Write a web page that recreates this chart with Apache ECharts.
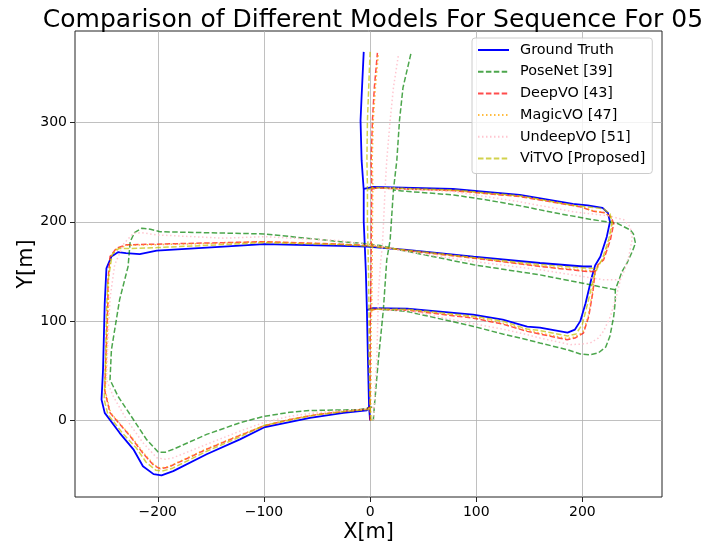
<!DOCTYPE html>
<html>
<head>
<meta charset="utf-8">
<script src="https://cdn.jsdelivr.net/npm/echarts@6/dist/echarts.min.js"></script>
<style>
  html, body { margin: 0; padding: 0; background: #fff; }
  #chart { width: 704px; height: 549px; }
</style>
</head>
<body>
<div id="chart"></div>
<script>
// legend names
var seriesNames = ['Ground Truth', 'PoseNet [39]', 'DeepVO [43]', 'MagicVO [47]', 'UndeepVO [51]', 'ViTVO [Proposed]'];
var xTicks = [-200, -100, 0, 100, 200];
var yTicks = [0, 100, 200, 300];

// ground truth: central road, right loop, middle road + left loop  [x, y] in m
var gtVertical = [[0,0],[-1,14],[-2,60],[-3,111],[-4,150],[-5,176],[-6,200],[-6,232],[-8,262],[-9,302],[-8,326],[-6,371]];
var gtRightLoop = [[-3,111],[2,113],[35,112.5],[97,106.5],[125,101.5],[148,94.5],[160,93.5],[186,88.5],[193,91.5],[198,100],[203,118],[209,145],[212,156],[217,165],[223,185],[226,200],[224,209],[219,214],[205,216.5],[191,218],[141,227],[78,233],[3,235],[-6,233]];
var gtLeftLoop = [[209,155],[201,155],[160,158.5],[97.5,165],[34.6,171.7],[-3,175],[-28,175.7],[-100,177.5],[-138,175],[-201,171],[-217,167.5],[-230,168.4],[-237.5,169.4],[-243.7,165],[-248.4,153],[-250,118],[-251.6,51],[-253,21],[-250,7.7],[-236,-12.4],[-223,-29],[-214,-46],[-204,-54],[-196.5,-55.2],[-185.5,-51],[-154,-34],[-122.6,-19],[-100,-7],[-56.6,2.7],[-25,7.7],[-3,10.3],[-1,14]];

// PoseNet
var poseVertical = [[3,0],[4,14],[7.8,61],[12.5,111.5],[15.7,161.7],[18.9,181.8],[22,232],[25.2,262],[27.7,302],[31,335],[38.4,369]];
var poseRightLoop = [[12.5,111.5],[18,111.5],[34.6,109.8],[97.5,94.7],[125,87],[148,81.3],[160,78],[185.5,71.3],[198,67],[207,66],[215,68],[222,74],[226,85],[229.5,104.8],[231,120],[231,131.6],[237.4,150],[242,158.4],[247,170],[250,178.5],[248,188],[245,191.8],[232.7,198.5],[210,202],[179,208],[141.5,216],[110,222],[78.6,227],[30,231],[22,232]];
var poseLeftLoop = [[231,131.6],[229.5,132.3],[160,146.6],[97.5,156.7],[20,173.5],[10,176],[-9.4,178.5],[-28,180],[-100,187.8],[-198,190],[-207,192.5],[-215,193.5],[-222,189],[-226,180],[-228,155],[-236,121.5],[-243.7,71],[-245,41],[-237.5,24.4],[-223,1],[-210.7,-19],[-199.7,-31.8],[-193,-32],[-185.5,-29],[-154,-14],[-122.6,-2.3],[-100.6,4],[-75.5,8.3],[-56.6,10],[-9.4,11],[4,14]];

// DeepVO
var deepVertical = [[0,0],[0,14],[0,60],[0,95],[0.5,111],[1,162],[1.2,200],[1.6,235],[1,262],[2.2,302],[4,335],[6.9,370]];
var deepRightLoop = [[0.5,111],[5,112],[35,111],[97.5,103],[125,97],[148,89.7],[160,87],[185.5,81.3],[193,83],[201,88],[206,104.8],[210,130],[212,150],[215,157],[220,161.7],[226.4,181.8],[229.5,198],[227,205],[221,209],[210.7,210.5],[198,215],[141.5,225.3],[78.6,231.3],[6,234],[1.6,233]];
var deepLeftLoop = [[212,150],[204.4,150],[160,155],[97.5,163.4],[34.6,171],[1,176],[-28,177.5],[-100,180],[-138,179],[-201,177.5],[-229.5,176.8],[-239,173.4],[-245,165],[-247,140],[-247,121.5],[-249,60],[-250,30],[-245,7.7],[-226,-15.8],[-214,-33],[-204,-45],[-198,-48.5],[-190,-47],[-154,-29],[-122.6,-15],[-100,-5.5],[-75.5,1],[-50,6],[-25,9],[-2,11.5],[0,14]];

// MagicVO
var magicVertical = [[0.5,0],[0.5,14],[1,60],[1,95],[1.5,111],[2,162],[2.2,200],[2.6,235],[2,262],[3,302],[5,335],[7.8,369]];
var magicRightLoop = [[1.5,111],[6,112],[35,111.5],[97.5,104],[125,98],[148,90.5],[160,88],[185.5,82.5],[193,84],[200.5,89],[205.5,105],[209.5,130],[211.5,150],[214.5,157],[219.5,162],[225.5,182],[228.5,198.5],[226,205.5],[220,209.5],[210,211],[198,215.5],[141.5,225.8],[78.6,231.6],[6,234.3],[2.6,233]];
var magicLeftLoop = [[211.5,151],[204,151],[160,155.5],[97.5,163.8],[34.6,171.2],[1.5,176],[-28,177.3],[-100,179.8],[-138,178.5],[-201,177],[-229,176.3],[-238.5,173],[-244.5,165],[-246.5,140],[-246.5,121.5],[-248.5,60],[-249.5,30],[-244.5,7.7],[-225.5,-15.5],[-213.5,-32.5],[-203.5,-44.5],[-198,-48],[-190,-46.5],[-154,-28.5],[-122.6,-14.7],[-100,-5.2],[-75.5,1.2],[-50,6.2],[-25,9.2],[-1.5,11.5],[0.5,14]];

// UndeepVO
var undeepVertical = [[3.5,0],[4.5,30],[6.3,61],[7.5,112],[7.8,128],[10,160],[11.5,175],[12.5,195],[14.2,235],[15.7,262],[18.9,302],[22,335],[26.7,368]];
var undeepRightLoop = [[7.5,112],[12,112],[35,110.5],[97.5,97.4],[125,92],[148,86.4],[160,83],[188.7,76.3],[200,77],[207.5,78],[215,83],[220,90],[226.4,104.8],[232,125],[235.8,141.6],[240,152],[243.7,165],[247,183],[245,195],[239,202],[225,206],[191.8,210],[141.5,220],[78.6,230.3],[18,234],[14.2,233]];
var undeepLeftLoop = [[235.8,141.6],[220,141.6],[160,151.7],[97.5,160],[34.6,170],[11.5,175],[-28,181],[-100,185],[-138,183.5],[-201,186.8],[-215,189],[-223,188.5],[-232,178],[-240.6,156.7],[-245,123],[-247,80],[-248.4,41],[-242,24.4],[-229.5,1],[-214,-22.4],[-201,-37.5],[-193,-39],[-185.5,-37.5],[-154,-24],[-122.6,-10.7],[-100,-2],[-75.5,4.3],[-50,8],[-25,10],[-2,11.5],[4.5,14]];

// ViTVO
var vitVertical = [[1,0],[0,14],[-1,60],[-1,111],[-1.5,150],[-2,176],[-2.5,200],[-2.5,235],[-3,262],[-2.5,302],[-1.5,330],[0,371]];
var vitRightLoop = [[-1,111],[3,112],[35,112],[97.5,105],[125,100],[148,92],[160,90.5],[186,85],[194,87],[200,97],[205,118],[211,145],[214,153],[219,163],[225,183],[228,200],[226,208],[220,213],[205,215],[191,216.5],[141.5,226],[78.6,232],[3,234.5],[-2.5,232]];
var vitLeftLoop = [[211,153],[201,153.5],[160,157],[97.5,164],[34.6,171.5],[-2,175.5],[-28,177],[-100,179],[-138,177],[-201,174],[-225,173],[-237,173],[-243,167],[-247,140],[-248,118],[-249.5,51],[-250.5,21],[-247,6],[-233,-13],[-220,-28],[-211,-42],[-202,-50],[-196,-51],[-186,-48],[-154,-31],[-122.6,-16.5],[-100,-5],[-56.6,4.5],[-25,9],[-2,11],[0,14]];

var FONT = 'DejaVu Sans';
var DASHED = [5.5, 2.4];
var DOTTED = [1.5, 2.5];

function track(name, segs, color, width, type) {
	return segs.map(function (seg) {
		return {
			type: 'line',
			name: name,
			data: seg,
			symbol: 'none',
			showSymbol: false,
			smooth: false,
			animation: false,
			silent: true,
			itemStyle: { color: color, opacity: 0 },
			lineStyle: { color: color, width: width, type: type }
		};
	});
}

var series = [].concat(
	track(seriesNames[0], [gtVertical, gtRightLoop, gtLeftLoop], '#0000ff', 1.8, 'solid'),
	track(seriesNames[1], [poseVertical, poseRightLoop, poseLeftLoop], 'rgba(0,128,0,0.7)', 1.5, DASHED),
	track(seriesNames[2], [deepVertical, deepRightLoop, deepLeftLoop], 'rgba(255,0,0,0.7)', 1.5, DASHED),
	track(seriesNames[3], [magicVertical, magicRightLoop, magicLeftLoop], 'rgba(255,165,0,0.75)', 1.5, DOTTED),
	track(seriesNames[4], [undeepVertical, undeepRightLoop, undeepLeftLoop], 'rgba(255,192,203,0.9)', 1.5, DOTTED),
	track(seriesNames[5], [vitVertical, vitRightLoop, vitLeftLoop], 'rgba(191,191,0,0.7)', 1.5, DASHED)
);

function tickLabel(v) {
	if (Math.abs(v % 100) > 1e-6) return '';
	return String(v).replace('-', '\u2212');
}

var chart = echarts.init(document.getElementById('chart'));
var option = {
	backgroundColor: '#ffffff',
	animation: false,
	title: {
		text: 'Comparison of Different Models For Sequence For 05',
		left: 368,
		top: 3,
		textAlign: 'center',
		textStyle: { fontFamily: FONT, fontSize: 25, fontWeight: 'normal', color: '#000' }
	},
	legend: {
		data: seriesNames,
		orient: 'vertical',
		left: 472,
		top: 38,
		padding: [5, 7, 8, 5],
		itemWidth: 31,
		itemHeight: 14,
		itemGap: 7.7,
		backgroundColor: 'rgba(255,255,255,0.8)',
		borderColor: '#cccccc',
		borderWidth: 1,
		borderRadius: 3,
		itemStyle: { opacity: 0 },
		textStyle: { fontFamily: FONT, fontSize: 14.4, color: '#000', lineHeight: 14, padding: [0, 0, 0, 6] }
	},
	grid: {
		left: 75,
		top: 31,
		width: 587,
		height: 466,
		show: true,
		borderColor: '#222',
		borderWidth: 1,
		containLabel: false
	},
	xAxis: {
		type: 'value',
		min: -278,
		max: 275,
		name: 'X[m]',
		nameLocation: 'middle',
		nameGap: 25,
		nameMoveOverlap: false,
		nameTextStyle: { fontFamily: FONT, fontSize: 20.8, color: '#000' },
		axisLine: { show: false, onZero: false },
		axisTick: { show: true, inside: false, length: 5, customValues: xTicks, lineStyle: { color: '#222' } },
		axisLabel: { fontFamily: FONT, fontSize: 14, color: '#000', margin: 8, customValues: xTicks, formatter: tickLabel },
		splitLine: { show: true, lineStyle: { color: '#b0b0b0', width: 0.8 } }
	},
	yAxis: {
		type: 'value',
		min: -77,
		max: 392,
		name: 'Y[m]',
		nameLocation: 'middle',
		nameGap: 38,
		nameMoveOverlap: false,
		nameRotate: 90,
		nameTextStyle: { fontFamily: FONT, fontSize: 20.8, color: '#000' },
		axisLine: { show: false, onZero: false },
		axisTick: { show: true, inside: false, length: 5, customValues: yTicks, lineStyle: { color: '#222' } },
		axisLabel: { fontFamily: FONT, fontSize: 14, color: '#000', margin: 8, customValues: yTicks, formatter: tickLabel },
		splitLine: { show: true, lineStyle: { color: '#b0b0b0', width: 0.8 } }
	},
	series: series
};
chart.setOption(option);
</script>
</body>
</html>
